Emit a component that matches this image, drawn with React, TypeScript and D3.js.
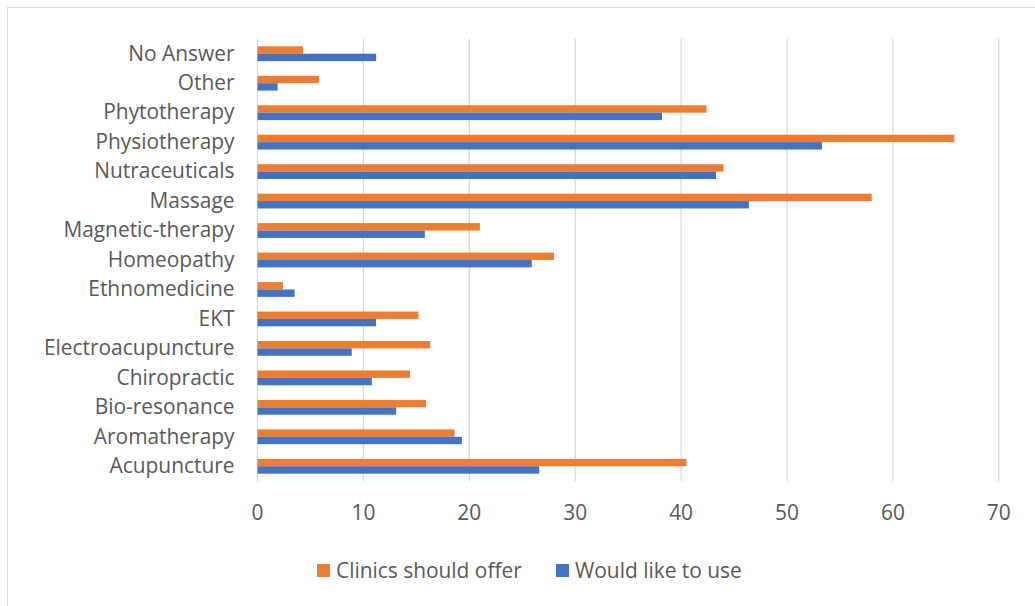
import React from "react";
import * as d3 from "d3";

// Therapy categories, listed top to bottom
const categories: string[] = [
  "No Answer",
  "Other",
  "Phytotherapy",
  "Physiotherapy",
  "Nutraceuticals",
  "Massage",
  "Magnetic-therapy",
  "Homeopathy",
  "Ethnomedicine",
  "EKT",
  "Electroacupuncture",
  "Chiropractic",
  "Bio-resonance",
  "Aromatherapy",
  "Acupuncture",
];

// Percentages per category
const clinicsShouldOffer: number[] = [4.3, 5.8, 42.4, 65.8, 44.0, 58.0, 21.0, 28.0, 2.4, 15.2, 16.3, 14.4, 15.9, 18.6, 40.5];
const wouldLikeToUse: number[] = [11.2, 1.9, 38.2, 53.3, 43.3, 46.4, 15.8, 25.9, 3.5, 11.2, 8.9, 10.8, 13.1, 19.3, 26.6];

const xTicks: number[] = [0, 10, 20, 30, 40, 50, 60, 70];

const seriesNames: string[] = ["Clinics should offer", "Would like to use"];
const seriesColors: string[] = ["#ED7D31", "#4472C4"];

const W = 1035;
const H = 606;
const FONT = "'Open Sans', 'Noto Sans', sans-serif";
const TEXT = "#595959";
const GRID = "#d9d9d9";

export default function App() {
  const plotTop = 39;
  const plotBottom = 481;
  const x = d3.scaleLinear().domain([0, 70]).range([257.5, 998.8]);
  const y = d3.scaleBand<string>().domain(categories).range([plotTop, plotBottom]);
  const barH = 7.4;
  const fontSize = 20.9;

  return (
    <svg
      width={W}
      height={H}
      style={{ position: "absolute", left: 0, top: 0, background: "#fff" }}
      fontFamily={FONT}
    >
      <rect x={7.5} y={7.5} width={W + 20} height={H + 20} fill="#fff" stroke={GRID} strokeWidth={1} />

      {xTicks.map((t) => (
        <line key={"g" + t} x1={x(t)} x2={x(t)} y1={plotTop} y2={plotBottom} stroke={GRID} strokeWidth={1.3} />
      ))}

      {categories.map((c, i) => {
        const cy = (y(c) as number) + y.bandwidth() / 2;
        return (
          <g key={c}>
            <rect x={x(0)} y={cy - barH} width={x(clinicsShouldOffer[i]) - x(0)} height={barH} fill={seriesColors[0]} />
            <rect x={x(0)} y={cy} width={x(wouldLikeToUse[i]) - x(0)} height={barH} fill={seriesColors[1]} />
            <text x={234.5} y={cy + 6.8} textAnchor="end" fontSize={fontSize} fill={TEXT}>
              {c}
            </text>
          </g>
        );
      })}

      {xTicks.map((t) => (
        <text key={"t" + t} x={x(t)} y={519.5} textAnchor="middle" fontSize={fontSize} fill={TEXT}>
          {t}
        </text>
      ))}

      {/* legend */}
      <rect x={317} y={564} width={13} height={13} fill={seriesColors[0]} />
      <text x={336} y={577.5} fontSize={fontSize} fill={TEXT}>
        {seriesNames[0]}
      </text>
      <rect x={556} y={564} width={13} height={13} fill={seriesColors[1]} />
      <text x={575} y={577.5} fontSize={fontSize} fill={TEXT}>
        {seriesNames[1]}
      </text>
    </svg>
  );
}
